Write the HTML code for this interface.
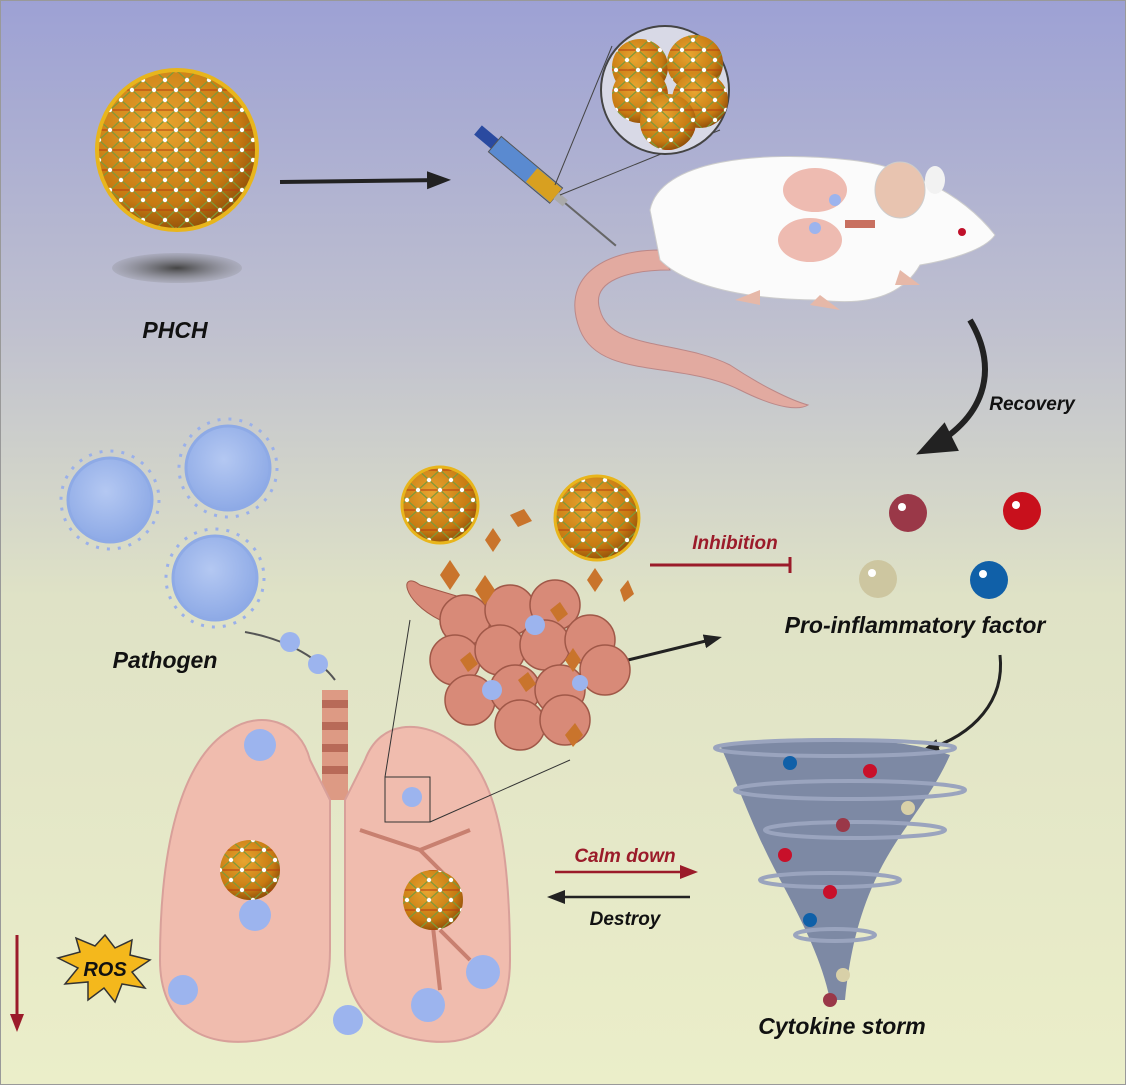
<!DOCTYPE html>
<html><head><meta charset="utf-8"><style>
html,body{margin:0;padding:0;width:1126px;height:1085px;overflow:hidden}
svg{display:block}
text{font-family:"Liberation Sans",sans-serif;font-weight:bold;font-style:italic}
</style></head><body>
<svg width="1126" height="1085" viewBox="0 0 1126 1085" xmlns="http://www.w3.org/2000/svg">
<defs>
<linearGradient id="bg" x1="0" y1="0" x2="0" y2="1">
<stop offset="0" stop-color="#9da1d4"/><stop offset="0.3" stop-color="#bfc0cf"/><stop offset="0.55" stop-color="#dfe2c6"/><stop offset="1" stop-color="#ebeec9"/></linearGradient>
<radialGradient id="sph" cx="0.4" cy="0.35" r="0.7"><stop offset="0" stop-color="#e8a530"/><stop offset="0.7" stop-color="#c77a12"/><stop offset="1" stop-color="#8a4a08"/></radialGradient>
<radialGradient id="sh" cx="0.5" cy="0.5" r="0.5"><stop offset="0" stop-color="#444"/><stop offset="1" stop-color="#777" stop-opacity="0.2"/></radialGradient>
<radialGradient id="vir" cx="0.45" cy="0.4" r="0.6"><stop offset="0" stop-color="#b4c8f2"/><stop offset="1" stop-color="#8eaae6"/></radialGradient>
<pattern id="mesh" width="22" height="20" patternUnits="userSpaceOnUse"><path d="M0 10 L11 0 L22 10 L11 20 Z" fill="none" stroke="#7a9a3a" stroke-width="1.2"/><path d="M0 10 L22 10" stroke="#b83a10" stroke-width="1"/><circle cx="11" cy="0" r="2.2" fill="#fff"/><circle cx="0" cy="10" r="2.2" fill="#fff"/><circle cx="22" cy="10" r="2.2" fill="#fff"/><circle cx="11" cy="20" r="2.2" fill="#fff"/></pattern>
<marker id="ah" markerUnits="userSpaceOnUse" markerWidth="24" markerHeight="24" refX="18" refY="12" orient="auto"><path d="M0 3 L24 12 L0 21 Z" fill="#222"/></marker>
<marker id="ahs" markerUnits="userSpaceOnUse" markerWidth="18" markerHeight="18" refX="14" refY="9" orient="auto"><path d="M0 2 L18 9 L0 16 Z" fill="#222"/></marker>
<marker id="ahb" markerUnits="userSpaceOnUse" markerWidth="40" markerHeight="40" refX="30" refY="20" orient="auto"><path d="M0 4 L40 20 L0 36 Z" fill="#222"/></marker>
<marker id="ahr" markerUnits="userSpaceOnUse" markerWidth="18" markerHeight="18" refX="14" refY="9" orient="auto"><path d="M0 2 L18 9 L0 16 Z" fill="#9b1b2a"/></marker>
</defs>
<rect width="1126" height="1085" fill="url(#bg)"/>
<rect x="0.5" y="0.5" width="1125" height="1084" fill="none" stroke="#999"/>

<!-- PHCH -->
<ellipse cx="177" cy="268" rx="65" ry="15" fill="url(#sh)"/>
<circle cx="177" cy="150" r="80" fill="url(#sph)"/>
<circle cx="177" cy="150" r="80" fill="url(#mesh)"/>
<circle cx="177" cy="150" r="80" fill="none" stroke="#e8b51c" stroke-width="4"/>
<text x="175" y="338" font-size="23" text-anchor="middle" fill="#111">PHCH</text>
<line x1="280" y1="182" x2="445" y2="180" stroke="#222" stroke-width="4" marker-end="url(#ah)"/>

<!-- syringe -->
<g transform="translate(478,130) rotate(40)">
<rect x="0" y="-6" width="22" height="12" fill="#2a4aa0"/>
<rect x="22" y="-10" width="80" height="20" fill="#5a8ad0" stroke="#555"/>
<rect x="70" y="-9" width="32" height="18" fill="#d8a020"/>
<rect x="102" y="-4" width="12" height="8" fill="#aaa"/>
<line x1="114" y1="0" x2="180" y2="0" stroke="#666" stroke-width="2"/>
</g>
<line x1="555" y1="185" x2="612" y2="46" stroke="#444"/>
<line x1="560" y1="195" x2="720" y2="130" stroke="#444"/>
<circle cx="665" cy="90" r="64" fill="#d8d9e6" stroke="#444" stroke-width="2"/>
<circle cx="640" cy="67" r="28" fill="url(#sph)"/><circle cx="640" cy="67" r="28" fill="url(#mesh)"/>
<circle cx="695" cy="63" r="28" fill="url(#sph)"/><circle cx="695" cy="63" r="28" fill="url(#mesh)"/>
<circle cx="640" cy="95" r="28" fill="url(#sph)"/><circle cx="640" cy="95" r="28" fill="url(#mesh)"/>
<circle cx="700" cy="100" r="28" fill="url(#sph)"/><circle cx="700" cy="100" r="28" fill="url(#mesh)"/>
<circle cx="668" cy="122" r="28" fill="url(#sph)"/><circle cx="668" cy="122" r="28" fill="url(#mesh)"/>

<!-- mouse -->
<path d="M660 250 C600 250 560 280 580 330 C600 380 680 360 740 390 C780 410 800 410 808 405 C790 400 760 385 730 365 C680 340 610 350 600 310 C590 280 630 270 670 270 Z" fill="#e2aaa0" stroke="#b88" />
<path d="M650 210 C660 160 760 150 850 160 C900 165 960 190 995 235 C985 250 950 260 920 265 C900 300 860 305 820 300 C760 300 690 290 660 260 Z" fill="#fbfbfb" stroke="#ccc"/>
<ellipse cx="900" cy="190" rx="25" ry="28" fill="#e8c4b0" stroke="#ccc"/>
<ellipse cx="935" cy="180" rx="10" ry="14" fill="#f2f2f2"/>
<circle cx="962" cy="232" r="4" fill="#c0102a"/>
<path d="M760 290 L735 300 L760 305 Z M820 295 L840 310 L810 305 Z M900 270 L920 285 L895 285 Z" fill="#e6b8a8"/>
<ellipse cx="815" cy="190" rx="32" ry="22" fill="#ecb4a8" opacity="0.9"/>
<ellipse cx="810" cy="240" rx="32" ry="22" fill="#ecb4a8" opacity="0.9"/>
<rect x="845" y="220" width="30" height="8" fill="#c87060"/>
<circle cx="835" cy="200" r="6" fill="#9cb4ee"/><circle cx="815" cy="228" r="6" fill="#9cb4ee"/>

<!-- recovery arrow -->
<path d="M970 320 C1000 370 985 420 925 450" fill="none" stroke="#222" stroke-width="6" marker-end="url(#ahb)"/>
<text x="1032" y="410" font-size="19" text-anchor="middle" fill="#111">Recovery</text>

<!-- factors -->
<circle cx="908" cy="513" r="19" fill="#9a3848"/><circle cx="902" cy="507" r="4" fill="#fff"/>
<circle cx="1022" cy="511" r="19" fill="#c8101c"/><circle cx="1016" cy="505" r="4" fill="#fff"/>
<circle cx="878" cy="579" r="19" fill="#cdc6a0"/><circle cx="872" cy="573" r="4" fill="#fff"/>
<circle cx="989" cy="580" r="19" fill="#1060a8"/><circle cx="983" cy="574" r="4" fill="#fff"/>
<text x="915" y="633" font-size="23" text-anchor="middle" fill="#111">Pro-inflammatory factor</text>
<text x="735" y="549" font-size="19" text-anchor="middle" fill="#9b1b2a">Inhibition</text>
<line x1="650" y1="565" x2="790" y2="565" stroke="#9b1b2a" stroke-width="3"/>
<line x1="790" y1="557" x2="790" y2="573" stroke="#9b1b2a" stroke-width="3"/>
<line x1="628" y1="660" x2="718" y2="638" stroke="#222" stroke-width="3" marker-end="url(#ahs)"/>
<path d="M1000 655 C1005 700 975 735 925 750" fill="none" stroke="#222" stroke-width="3" marker-end="url(#ahs)"/>

<!-- viruses -->
<g fill="url(#vir)" stroke="#8eaae6" stroke-width="3">
<circle cx="110" cy="500" r="42"/><circle cx="228" cy="468" r="42"/><circle cx="215" cy="578" r="42"/>
</g>
<g fill="none" stroke="#9ab0ea" stroke-width="3" stroke-dasharray="3 8">
<circle cx="110" cy="500" r="49"/><circle cx="228" cy="468" r="49"/><circle cx="215" cy="578" r="49"/>
</g>
<text x="165" y="668" font-size="23" text-anchor="middle" fill="#111">Pathogen</text>
<path d="M245 632 C290 640 320 660 335 680" fill="none" stroke="#555" stroke-width="2"/>
<circle cx="290" cy="642" r="10" fill="#9cb4ee"/><circle cx="318" cy="664" r="10" fill="#9cb4ee"/>

<!-- lungs -->
<rect x="322" y="690" width="26" height="110" fill="#dd9a84"/>
<g fill="#b86a58"><rect x="322" y="700" width="26" height="8"/><rect x="322" y="722" width="26" height="8"/><rect x="322" y="744" width="26" height="8"/><rect x="322" y="766" width="26" height="8"/></g>
<path d="M315 790 L260 870 M355 790 L410 860" stroke="#dd9a84" stroke-width="22"/>
<path d="M310 760 C300 720 260 710 230 730 C180 760 160 850 160 960 C160 1020 200 1050 260 1040 C320 1030 330 990 330 950 L330 800 Z" fill="#f0bcae" stroke="#d8a09a" stroke-width="2"/>
<path d="M365 760 C380 720 420 720 450 740 C500 770 510 860 510 960 C510 1020 480 1050 420 1040 C360 1030 345 990 345 950 L345 800 Z" fill="#f0bcae" stroke="#d8a09a" stroke-width="2"/>
<path d="M360 830 L420 850 L450 880 M420 850 L470 830 M430 900 L440 990 M440 930 L470 960" stroke="#c88070" stroke-width="4" fill="none"/>
<rect x="385" y="777" width="45" height="45" fill="none" stroke="#333"/>
<line x1="385" y1="777" x2="410" y2="620" stroke="#333"/>
<line x1="430" y1="822" x2="570" y2="760" stroke="#333"/>
<g fill="#9cb4ee"><circle cx="260" cy="745" r="16"/><circle cx="255" cy="915" r="16"/><circle cx="183" cy="990" r="15"/><circle cx="348" cy="1020" r="15"/><circle cx="428" cy="1005" r="17"/><circle cx="483" cy="972" r="17"/><circle cx="412" cy="797" r="10"/></g>
<circle cx="250" cy="870" r="30" fill="url(#sph)"/><circle cx="250" cy="870" r="30" fill="url(#mesh)"/>
<circle cx="433" cy="900" r="30" fill="url(#sph)"/><circle cx="433" cy="900" r="30" fill="url(#mesh)"/>

<!-- ROS -->
<polygon points="105,935 115,948 132,940 130,955 150,960 132,972 145,988 122,984 115,1002 104,988 88,1000 88,982 65,984 78,968 58,958 80,952 76,938 95,946" fill="#f4b81c" stroke="#333" stroke-width="1.5"/>
<text x="105" y="976" font-size="20" text-anchor="middle" fill="#111">ROS</text>
<line x1="17" y1="935" x2="17" y2="1028" stroke="#9b1b2a" stroke-width="3" marker-end="url(#ahr)"/>

<!-- alveoli -->
<path d="M420 585 C400 570 400 600 440 620 L470 640 L470 600 Z" fill="#d88a78" stroke="#a05848"/>
<g fill="#d88a78" stroke="#a05848" stroke-width="1.5">
<circle cx="465" cy="620" r="25"/><circle cx="510" cy="610" r="25"/><circle cx="555" cy="605" r="25"/>
<circle cx="455" cy="660" r="25"/><circle cx="500" cy="650" r="25"/><circle cx="545" cy="645" r="25"/><circle cx="590" cy="640" r="25"/>
<circle cx="470" cy="700" r="25"/><circle cx="515" cy="690" r="25"/><circle cx="560" cy="690" r="25"/><circle cx="605" cy="670" r="25"/>
<circle cx="520" cy="725" r="25"/><circle cx="565" cy="720" r="25"/>
</g>
<g fill="#9cb4ee"><circle cx="535" cy="625" r="10"/><circle cx="492" cy="690" r="10"/><circle cx="580" cy="683" r="8"/></g>
<g fill="#c9742c"><path d="M475 590 l10 -15 l10 15 l-10 15z"/><path d="M510 515 l14 -6 l8 12 l-14 6z"/><path d="M485 540 l8 -12 l8 12 l-8 12z"/><path d="M587 580 l8 -12 l8 12 l-8 12z"/><path d="M620 590 l8 -10 l6 14 l-10 8z"/><path d="M550 610 l10 -8 l8 12 l-10 8z"/><path d="M518 680 l10 -8 l8 12 l-10 8z"/><path d="M565 735 l10 -12 l8 12 l-10 12z"/><path d="M460 660 l10 -8 l8 12 l-10 8z"/><path d="M440 575 l10 -15 l10 15 l-10 15z"/><path d="M565 660 l8 -12 l8 12 l-8 12z"/></g>
<circle cx="440" cy="505" r="38" fill="url(#sph)"/><circle cx="440" cy="505" r="38" fill="url(#mesh)"/><circle cx="440" cy="505" r="38" fill="none" stroke="#e8b51c" stroke-width="3"/>
<circle cx="597" cy="518" r="42" fill="url(#sph)"/><circle cx="597" cy="518" r="42" fill="url(#mesh)"/><circle cx="597" cy="518" r="42" fill="none" stroke="#e8b51c" stroke-width="3"/>

<!-- calm/destroy -->
<text x="625" y="862" font-size="19" text-anchor="middle" fill="#9b1b2a">Calm down</text>
<line x1="555" y1="872" x2="694" y2="872" stroke="#9b1b2a" stroke-width="2.5" marker-end="url(#ahr)"/>
<line x1="690" y1="897" x2="551" y2="897" stroke="#222" stroke-width="2.5" marker-end="url(#ahs)"/>
<text x="625" y="925" font-size="19" text-anchor="middle" fill="#111">Destroy</text>

<!-- tornado -->
<path d="M720 745 C780 735 900 735 950 755 C930 800 900 830 880 870 C860 910 850 950 845 1000 L830 1000 C820 950 790 900 770 860 C750 820 740 790 720 745 Z" fill="#7d89a4"/>
<g fill="none" stroke="#9aa4be" stroke-width="4"><ellipse cx="835" cy="748" rx="120" ry="8"/><ellipse cx="850" cy="790" rx="115" ry="9"/><ellipse cx="855" cy="830" rx="90" ry="8"/><ellipse cx="830" cy="880" rx="70" ry="7"/><ellipse cx="835" cy="935" rx="40" ry="6"/></g>
<g><circle cx="790" cy="763" r="7" fill="#1060a8"/><circle cx="870" cy="771" r="7" fill="#c8102a"/><circle cx="908" cy="808" r="7" fill="#d8d0a8"/><circle cx="843" cy="825" r="7" fill="#9a3848"/><circle cx="785" cy="855" r="7" fill="#c8102a"/><circle cx="830" cy="892" r="7" fill="#c8102a"/><circle cx="810" cy="920" r="7" fill="#1060a8"/><circle cx="843" cy="975" r="7" fill="#d8d0a8"/><circle cx="830" cy="1000" r="7" fill="#9a3848"/></g>
<text x="842" y="1034" font-size="23" text-anchor="middle" fill="#111">Cytokine storm</text>
</svg>
</body></html>
